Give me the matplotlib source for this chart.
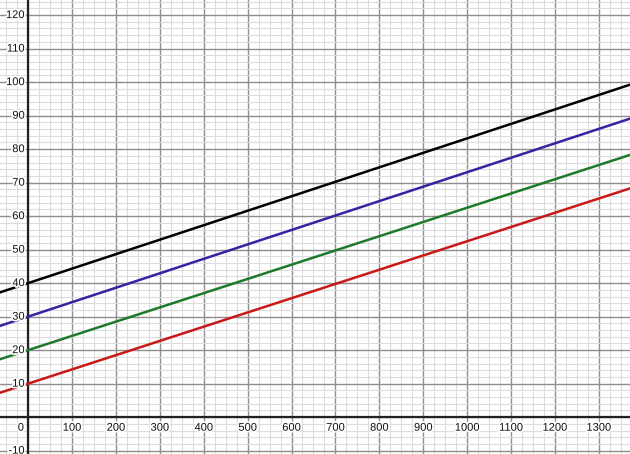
import matplotlib
matplotlib.use("Agg")
import matplotlib.pyplot as plt
import matplotlib.patheffects as pe
import numpy as np

# lines y = b + m*x
intercepts = [10, 20, 30, 40]
slopes = [0.0425, 0.0425, 0.0431, 0.0432]
colors = ["#c81818", "#1e7a2a", "#3a20a2", "#000000"]

x_ticks = [100, 200, 300, 400, 500, 600, 700, 800, 900, 1000, 1100, 1200, 1300]
y_ticks = [-10, 10, 20, 30, 40, 50, 60, 70, 80, 90, 100, 110, 120]

xmin, xmax = -64, 1371
ymin, ymax = -11.0, 124.5

plt.rcParams['font.family'] = ['Liberation Sans', 'DejaVu Sans']

fig = plt.figure(figsize=(6.3, 4.54), dpi=100)
ax = fig.add_axes([0, 0, 1, 1])
ax.set_xlim(xmin, xmax)
ax.set_ylim(ymin, ymax)

# grid
for x in np.arange(-50, xmax, 25):
    major = (x % 100 == 0)
    ax.axvline(x, color="#8e8e8e" if major else "#dcdcdc",
               lw=1.0 if major else 0.8, zorder=0)
for y in np.arange(-10, ymax, 2):
    major = (y % 10 == 0)
    ax.axhline(y, color="#8e8e8e" if major else "#dcdcdc",
               lw=1.0 if major else 0.8, zorder=0)

ax.axhline(0, color="#222222", lw=1.6, zorder=1)
ax.axvline(0, color="#222222", lw=1.6, zorder=1)

for b, m, c in zip(intercepts, slopes, colors):
    ax.axline((0, b), slope=m, color=c, lw=1.8, zorder=3)

fs = 8
halo = [pe.withStroke(linewidth=2.5, foreground="white")]
for x in x_ticks:
    ax.annotate(str(x), (x, 0), xytext=(0, -4), textcoords="offset points",
                ha="center", va="top", fontsize=fs, color="#111111",
                path_effects=halo, zorder=4)
ax.annotate("0", (0, 0), xytext=(-3, -4), textcoords="offset points",
            ha="right", va="top", fontsize=fs, color="#111111",
            path_effects=halo, zorder=4)
for y in y_ticks:
    ax.annotate(str(y), (0, y), xytext=(-2.5, 0), textcoords="offset points",
                ha="right", va="center", fontsize=fs, color="#111111",
                path_effects=halo, zorder=4)

ax.set_xticks([])
ax.set_yticks([])
for s in ax.spines.values():
    s.set_visible(False)

fig.savefig("out.png", dpi=100)
